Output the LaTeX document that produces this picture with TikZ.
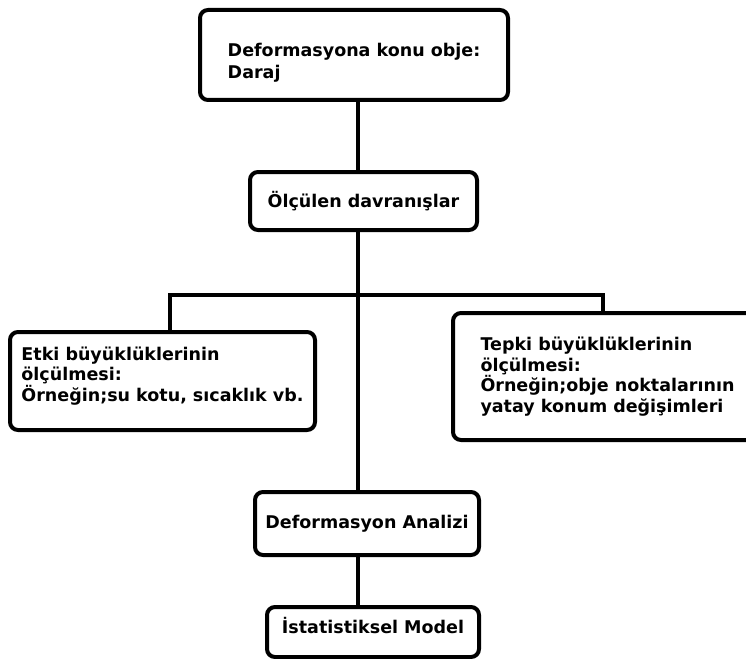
\documentclass[tikz,border=0pt]{standalone}
\usepackage{fontspec}
\setmainfont{DejaVu Sans}
\newcommand{\upstrut}[1]{\rule{0pt}{#1}}
\newcommand{\downstrut}[1]{\rule[-#1]{0pt}{#1}}
\begin{document}
\begin{tikzpicture}[x=1pt,y=-1pt,
  box/.style={draw=black, line width=4pt, rounded corners=8pt, align=left,
    inner sep=0pt, font=\bfseries\fontsize{17.5}{20.5}\selectfont, fill=white},
  conn/.style={draw=black, line width=4pt}]
\clip (0,0) rectangle (746,658);
\fill[white] (0,0) rectangle (746,658);
\coordinate (spine) at (358,0);
\coordinate (bl) at (170,295);
\coordinate (br) at (603,295);
\node[box, minimum width=308pt, minimum height=90pt] (top) at (354,55) {\upstrut{28pt}Deformasyona konu obje:\\[1.5pt]Daraj};
\node[box, minimum width=227pt, minimum height=58pt] (olc) at (363.5,201) {Ölçülen davranışlar};
\node[box, minimum width=305pt, minimum height=98pt] (etki) at (162.5,381) {Etki büyüklüklerinin\\ölçülmesi:\\Örneğin;su kotu, sıcaklık vb.\downstrut{14pt}};
\node[box, minimum width=309pt, minimum height=127pt] (tepki) at (607.5,376.5) {Tepki büyüklüklerinin\\ölçülmesi:\\Örneğin;obje noktalarının\\yatay konum değişimleri};
\node[box, minimum width=224pt, minimum height=63pt] (analiz) at (367,523.5) {Deformasyon Analizi};
\node[box, minimum width=212pt, minimum height=50pt] (ist) at (373,632) {İstatistiksel Model\downstrut{14pt}};
\draw[conn] (top.south -| spine) -- (olc.north -| spine);
\draw[conn] (olc.south -| spine) -- (analiz.north -| spine);
\draw[conn] (analiz.south -| spine) -- (ist.north -| spine);
\draw[conn] (etki.north -| bl) -- (bl) -- (br) -- (tepki.north -| br);
\end{tikzpicture}
\end{document}
